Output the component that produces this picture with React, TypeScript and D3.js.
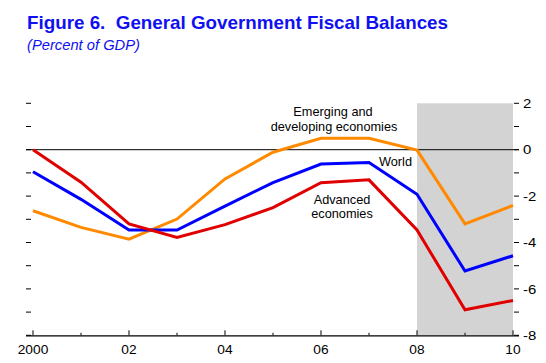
import React from "react";
import * as d3 from "d3";

const years = [2000, 2001, 2002, 2003, 2004, 2005, 2006, 2007, 2008, 2009, 2010];
const advanced = [0, -1.4, -3.2, -3.78, -3.23, -2.5, -1.42, -1.3, -3.46, -6.9, -6.5];
const world = [-0.95, -2.14, -3.46, -3.46, -2.43, -1.42, -0.62, -0.55, -1.92, -5.23, -4.57];
const emerging = [-2.63, -3.35, -3.86, -2.99, -1.26, -0.11, 0.49, 0.49, -0.02, -3.2, -2.4];
const yTicks = [2, 0, -2, -4, -6, -8];
const yMinor = [1, -1, -3, -5, -7];
const xLabels = ["2000", "02", "04", "06", "08", "10"];
const shadeFrom = 2008;
const shadeTo = 2010;

const FONT = "'Liberation Sans', Arial, sans-serif";

function SText({ x, y, sx = 1, anchor = "start", size, children, ...rest }: any) {
  return (
    <text transform={`translate(${x},${y}) scale(${sx},1)`} textAnchor={anchor} fontSize={size} fill="#000" {...rest}>
      {children}
    </text>
  );
}

export default function App() {
  const W = 546, H = 363;
  const x = d3.scaleLinear().domain([2000, 2010]).range([33, 513]);
  const y = d3.scaleLinear().domain([-8, 2]).range([335.3, 103.3]);
  const line = d3.line<number>().x((_, i) => x(years[i])).y((d) => y(d));
  const series = [
    { v: emerging, c: "#FF8A00" },
    { v: world, c: "#0000FF" },
    { v: advanced, c: "#E00000" },
  ];
  const labelYears = [2000, 2002, 2004, 2006, 2008, 2010];
  return (
    <svg width={W} height={H} style={{ position: "absolute", left: 0, top: 0, background: "#fff" }} fontFamily={FONT}>
      <text x={27} y={29} fill="#1010F0" fontWeight="bold" fontSize={19} textLength={421} lengthAdjust="spacingAndGlyphs">
        Figure 6.{"\u00a0\u00a0"}General Government Fiscal Balances
      </text>
      <text x={27} y={50} fill="#1010F0" fontStyle="italic" fontSize={14} textLength={113} lengthAdjust="spacingAndGlyphs">
        (Percent of GDP)
      </text>
      <rect x={x(shadeFrom)} y={y(2)} width={x(shadeTo) - x(shadeFrom)} height={y(-8) - y(2)} fill="#D3D3D3" />
      <line x1={26} x2={519} y1={y(0)} y2={y(0)} stroke="#000" strokeWidth={1} />
      <line x1={26} x2={519} y1={y(-8) + 0.5} y2={y(-8) + 0.5} stroke="#000" strokeWidth={1.2} />
      {years.map((yr, i) => (
        <line key={yr} x1={x(yr)} x2={x(yr)} y1={y(-8)} y2={y(-8) - (i % 2 === 0 ? 5 : 2.5)} stroke="#000" strokeWidth={1} />
      ))}
      {labelYears.map((yr, i) => (
        <SText key={yr} x={x(yr)} y={354} anchor="middle" size={12.5} sx={1.1}>
          {xLabels[i]}
        </SText>
      ))}
      {[...yTicks, ...yMinor].map((v) => (
        <line key={"l" + v} x1={26} x2={31} y1={y(v)} y2={y(v)} stroke="#000" strokeWidth={1} />
      ))}
      {[...yTicks, ...yMinor].map((v) => (
        <line key={"r" + v} x1={514} x2={519} y1={y(v)} y2={y(v)} stroke="#000" strokeWidth={1} />
      ))}
      {yTicks.map((v) => (
        <SText key={"t" + v} x={523} y={y(v) + 4.7} size={13} sx={1.15}>
          {v}
        </SText>
      ))}
      {series.map((s, i) => (
        <path key={i} d={line(s.v) || ""} fill="none" stroke={s.c} strokeWidth={3} strokeLinejoin="miter" />
      ))}
      <SText x={333} y={116} anchor="middle" size={12.5} sx={1.02}>Emerging and</SText>
      <SText x={334} y={131} anchor="middle" size={12.5} sx={1.02}>developing economies</SText>
      <SText x={379} y={166} size={12.5} sx={1.02}>World</SText>
      <SText x={342} y={204} anchor="middle" size={12.5} sx={1.02}>Advanced</SText>
      <SText x={342} y={218} anchor="middle" size={12.5} sx={1.02}>economies</SText>
    </svg>
  );
}
